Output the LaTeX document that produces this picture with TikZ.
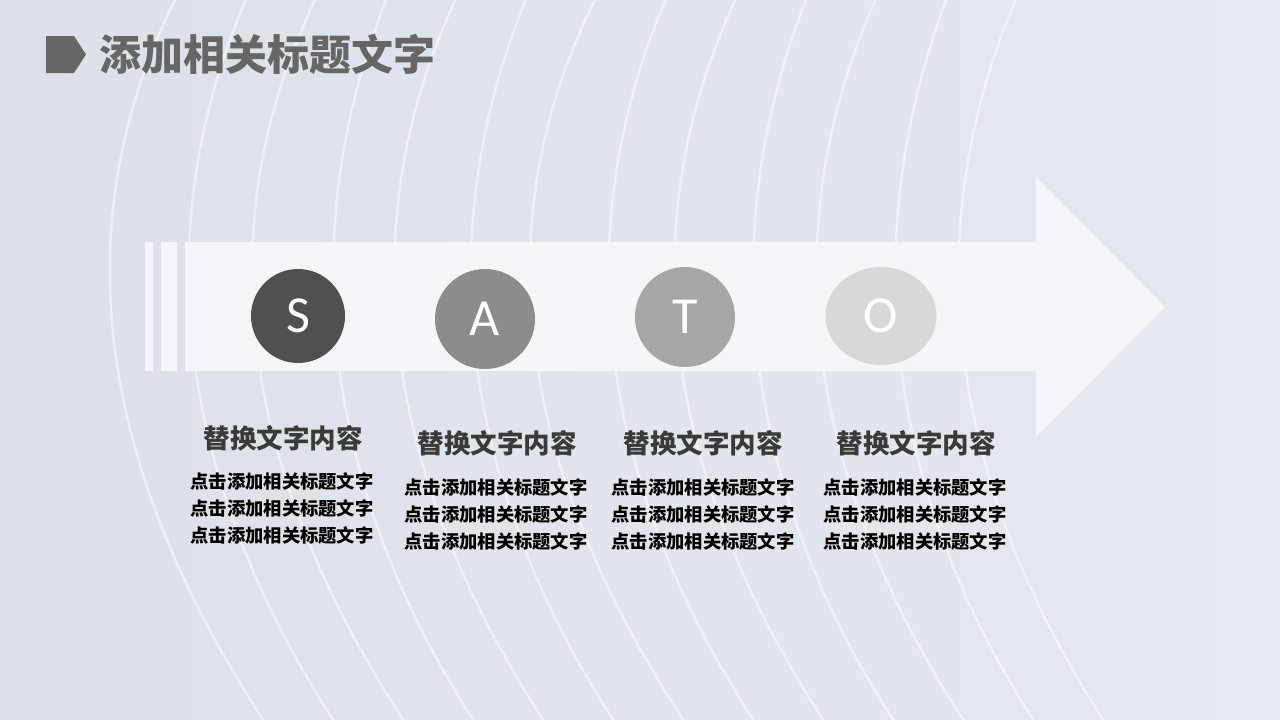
\documentclass[tikz,border=0pt]{standalone}
\usepackage{fontspec}
\setsansfont{Carlito}
\newfontfamily\cjk{Noto Sans CJK SC}
\usepackage{tikz}
\usetikzlibrary{shapes.geometric, positioning}
\definecolor{bgcol}{HTML}{DCE1E9}
\definecolor{bgright}{HTML}{E6E9EF}
\definecolor{barcol}{HTML}{F5F6FA}
\definecolor{titlecol}{HTML}{666666}
\definecolor{headcol}{HTML}{3A3A3A}
\tikzset{
    bgline/.style={white, line width=2.5pt, opacity=0.5},
    bar/.style={fill=barcol},
    letter/.style={circle, minimum size=96pt, inner sep=0pt, text=white, font=\sffamily\fontsize{52}{52}\selectfont},
    head/.style={text=headcol, font=\cjk\bfseries\fontsize{26.5}{26.5}\selectfont},
    body/.style={align=center, text=black, font=\cjk\bfseries\fontsize{18.3}{27}\selectfont},
}

\begin{document}
\begin{tikzpicture}[x=1pt,y=-1pt]
  \useasboundingbox (0,0) rectangle (1280,720);
  \shade[left color=bgcol, right color=bgright] (0,0) rectangle (1280,720);

  % background lines
  \foreach \x/\b in {180/140,250/120,320/135,390/110,460/130,530/115,600/140,670/120,740/130,810/110,880/125,950/105,1020/120}
    \draw[bgline] (\x,-10) .. controls (\x-\b,260) and (\x-50,520) .. (\x+90,730);

  % title
  \fill[titlecol] (46,36) -- (74,36) -- (86,54.5) -- (74,73) -- (46,73) -- cycle;
  \node[anchor=west, text=titlecol, font=\cjk\bfseries\fontsize{42}{42}\selectfont] (title) at (96,54) {添加相关标题文字};

  % arrow
  \fill[bar] (185,242) -- (1036,242) -- (1036,177) -- (1165,307)
    -- (1036,437) -- (1036,371) -- (185,371) -- cycle;
  \fill[bar] (145,242) rectangle (153,371);
  \fill[bar] (161,242) rectangle (177,371);

  % steps
  \node[letter, fill={rgb,255:red,80;green,80;blue,80}, minimum size=94pt] (S) at (298,316) {S};
  \node[letter, fill={rgb,255:red,140;green,140;blue,140}, minimum size=100pt] (A) at (485,319) {A};
  \node[letter, fill={rgb,255:red,166;green,166;blue,166}, minimum size=100pt] (T) at (685,317) {T};
  \node[letter, ellipse, fill={rgb,255:red,216;green,216;blue,216}, minimum width=111pt, minimum height=98pt] (O) at (881,316) {O};

  \node[head] (hS) at (283,438) {替换文字内容};
  \node[head] (hA) at (497,443) {替换文字内容};
  \node[head] (hT) at (703,443) {替换文字内容};
  \node[head] (hO) at (916,443) {替换文字内容};

  \node[body] (tS) at (282,508) {点击添加相关标题文字\\点击添加相关标题文字\\点击添加相关标题文字};
  \node[body] (tA) at (496,514) {点击添加相关标题文字\\点击添加相关标题文字\\点击添加相关标题文字};
  \node[body] (tT) at (703,514) {点击添加相关标题文字\\点击添加相关标题文字\\点击添加相关标题文字};
  \node[body] (tO) at (915,514) {点击添加相关标题文字\\点击添加相关标题文字\\点击添加相关标题文字};
\end{tikzpicture}
\end{document}
